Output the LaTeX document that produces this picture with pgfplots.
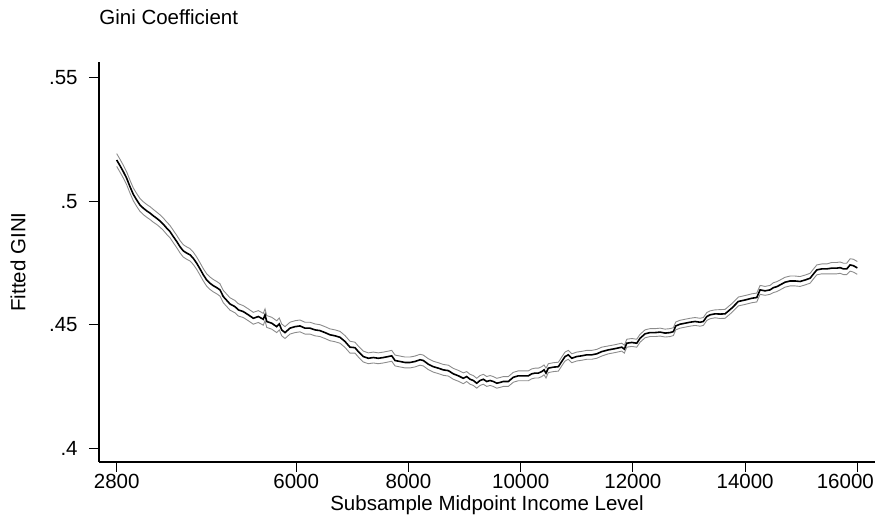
\documentclass[border=0pt]{standalone}
\usepackage{fontspec}
\setmainfont{Liberation Sans}
\usepackage{pgfplots}
\usepackage{pgfplotstable}
\pgfplotsset{compat=1.18}

% fitted Gini with upper / lower band
\pgfplotstableread{
x mid lo hi
2800 .5167 .5141 .5193
2859 .5144 .5118 .5170
2918 .5120 .5094 .5146
2978 .5093 .5067 .5119
3037 .5059 .5033 .5085
3096 .5028 .5002 .5054
3157 .5005 .4979 .5031
3215 .4985 .4959 .5011
3274 .4972 .4946 .4998
3335 .4961 .4935 .4987
3394 .4952 .4926 .4978
3452 .4941 .4915 .4967
3513 .4931 .4906 .4956
3572 .4920 .4895 .4945
3631 .4907 .4882 .4932
3691 .4891 .4866 .4916
3750 .4877 .4852 .4902
3809 .4857 .4832 .4882
3870 .4837 .4812 .4862
3928 .4816 .4791 .4841
3987 .4799 .4774 .4824
4048 .4790 .4765 .4815
4107 .4783 .4758 .4808
4165 .4769 .4744 .4794
4226 .4749 .4724 .4774
4285 .4726 .4701 .4751
4344 .4702 .4677 .4727
4404 .4681 .4656 .4706
4463 .4668 .4643 .4693
4522 .4658 .4633 .4683
4583 .4650 .4625 .4675
4641 .4641 .4616 .4666
4700 .4614 .4589 .4639
4819 .4584 .4559 .4609
4909 .4573 .4548 .4598
4968 .4560 .4535 .4585
5057 .4553 .4529 .4577
5146 .4540 .4516 .4564
5235 .4526 .4502 .4550
5324 .4533 .4509 .4557
5413 .4522 .4498 .4546
5444 .4540 .4516 .4564
5474 .4513 .4489 .4537
5563 .4506 .4482 .4530
5652 .4492 .4468 .4516
5698 .4503 .4479 .4527
5741 .4479 .4455 .4503
5800 .4468 .4444 .4492
5889 .4486 .4462 .4510
5978 .4492 .4468 .4516
6067 .4495 .4471 .4519
6156 .4486 .4462 .4510
6245 .4486 .4462 .4510
6334 .4479 .4455 .4503
6423 .4476 .4452 .4500
6513 .4468 .4444 .4492
6602 .4459 .4435 .4483
6691 .4455 .4431 .4479
6780 .4449 .4425 .4473
6869 .4432 .4408 .4456
6958 .4409 .4385 .4433
7047 .4407 .4385 .4429
7107 .4391 .4369 .4413
7196 .4371 .4349 .4393
7285 .4364 .4342 .4386
7374 .4367 .4345 .4389
7463 .4364 .4342 .4386
7552 .4367 .4345 .4389
7641 .4371 .4349 .4393
7702 .4374 .4352 .4396
7761 .4355 .4333 .4377
7850 .4351 .4329 .4373
7939 .4347 .4325 .4369
8028 .4347 .4325 .4369
8117 .4351 .4329 .4373
8206 .4358 .4336 .4380
8265 .4355 .4333 .4377
8354 .4340 .4318 .4362
8443 .4330 .4308 .4352
8532 .4324 .4302 .4346
8622 .4317 .4295 .4339
8711 .4314 .4292 .4336
8800 .4301 .4279 .4323
8889 .4293 .4271 .4315
8978 .4283 .4261 .4305
9038 .4290 .4270 .4310
9098 .4279 .4259 .4299
9156 .4274 .4254 .4294
9217 .4263 .4243 .4283
9276 .4274 .4254 .4294
9335 .4279 .4259 .4299
9395 .4270 .4250 .4290
9454 .4274 .4254 .4294
9513 .4270 .4250 .4290
9574 .4263 .4243 .4283
9632 .4266 .4246 .4286
9691 .4270 .4250 .4290
9780 .4270 .4250 .4290
9869 .4287 .4267 .4307
9958 .4293 .4273 .4313
10048 .4293 .4273 .4313
10137 .4293 .4273 .4313
10197 .4301 .4281 .4321
10256 .4304 .4284 .4324
10315 .4304 .4284 .4324
10376 .4310 .4290 .4330
10417 .4317 .4297 .4337
10452 .4304 .4284 .4324
10493 .4324 .4306 .4342
10582 .4328 .4310 .4346
10672 .4330 .4312 .4348
10732 .4351 .4333 .4369
10791 .4371 .4353 .4389
10850 .4378 .4360 .4396
10910 .4364 .4346 .4382
10999 .4371 .4353 .4389
11089 .4374 .4356 .4392
11178 .4378 .4360 .4396
11267 .4378 .4360 .4396
11356 .4382 .4364 .4400
11445 .4391 .4373 .4409
11563 .4398 .4382 .4414
11682 .4403 .4387 .4419
11801 .4409 .4393 .4425
11848 .4401 .4385 .4417
11891 .4425 .4409 .4441
11980 .4428 .4412 .4444
12069 .4425 .4409 .4441
12128 .4445 .4429 .4461
12217 .4463 .4447 .4479
12306 .4468 .4452 .4484
12395 .4468 .4452 .4484
12485 .4470 .4454 .4486
12574 .4466 .4450 .4482
12663 .4468 .4452 .4484
12722 .4472 .4456 .4488
12764 .4495 .4479 .4511
12841 .4502 .4486 .4518
12930 .4506 .4490 .4522
13019 .4510 .4494 .4526
13108 .4513 .4497 .4529
13198 .4510 .4494 .4526
13256 .4513 .4497 .4529
13317 .4533 .4517 .4549
13376 .4540 .4524 .4556
13465 .4544 .4528 .4560
13554 .4543 .4525 .4561
13643 .4544 .4526 .4562
13762 .4567 .4549 .4585
13880 .4594 .4576 .4612
13999 .4600 .4582 .4618
14119 .4607 .4589 .4625
14208 .4610 .4592 .4628
14267 .4641 .4623 .4659
14356 .4637 .4619 .4655
14445 .4641 .4623 .4659
14504 .4650 .4630 .4670
14565 .4654 .4634 .4674
14623 .4661 .4641 .4681
14712 .4672 .4652 .4692
14802 .4677 .4657 .4697
14891 .4677 .4657 .4697
14980 .4675 .4655 .4695
15069 .4681 .4661 .4701
15158 .4688 .4668 .4708
15217 .4705 .4685 .4725
15278 .4722 .4702 .4742
15367 .4726 .4706 .4746
15456 .4726 .4706 .4746
15545 .4729 .4706 .4752
15634 .4729 .4706 .4752
15693 .4731 .4708 .4754
15752 .4726 .4703 .4749
15812 .4726 .4703 .4749
15871 .4742 .4717 .4767
15930 .4739 .4713 .4765
15991 .4731 .4705 .4757
16000 .4730 .4704 .4756
}\gini

\definecolor{bandgray}{RGB}{140,140,140}

\begin{document}
\begin{tikzpicture}[font=\fontsize{10.25}{12}\selectfont]
\path[use as bounding box] (-49.5pt,-28.5pt) rectangle (390.5pt,231pt);
\begin{axis}[
  scale only axis,
  width=388pt, height=200.15pt,
  xmin=2485, xmax=16315,
  ymin=0.3944, ymax=0.5565,
  axis x line=bottom, axis y line=left,
  axis line style={-, line width=0.6pt, black},
  tick align=outside,
  major tick length=5pt,
  tick style={line width=0.6pt, black},
  scaled x ticks=false, scaled y ticks=false,
  xtick={2800,6000,8000,10000,12000,14000},
  xticklabels={2800,6000,8000,10000,12000,14000},
  extra x ticks={16000},
  extra x tick labels={16000},
  extra x tick style={xticklabel style={xshift=-6pt}},
  ytick={0.4,0.45,0.5,0.55},
  yticklabels={.4,.45,.5,.55},
  xticklabel style={inner sep=1pt},
  yticklabel style={inner xsep=5.5pt, inner ysep=0pt},
]
\addplot[bandgray, line width=0.45pt] table[x=x, y=hi] {\gini};
\addplot[bandgray, line width=0.45pt] table[x=x, y=lo] {\gini};
\addplot[black, line width=0.8pt] table[x=x, y=mid] {\gini};
\end{axis}
\node[anchor=base west, inner sep=0pt] at (0pt,218.5pt) {Gini Coefficient};
\node[rotate=90, inner sep=0pt] at (-40.5pt,100pt) {Fitted GINI};
\node[anchor=base, inner sep=0pt] at (194pt,-24.25pt) {Subsample Midpoint Income Level};
\end{tikzpicture}
\end{document}
